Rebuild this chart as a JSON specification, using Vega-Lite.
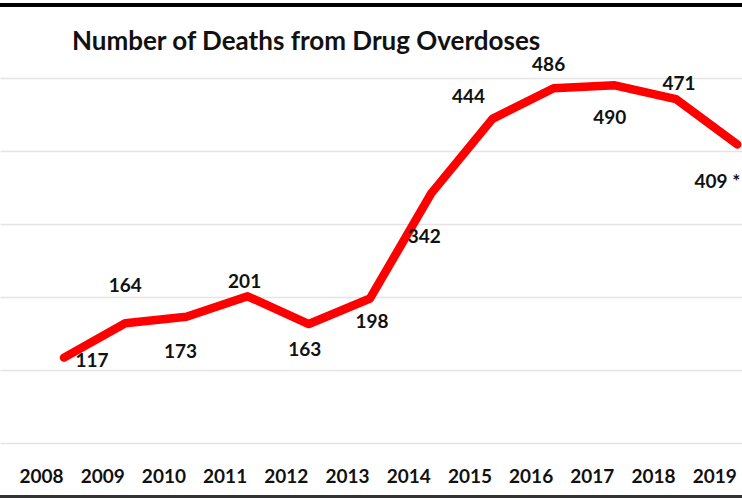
{
  "$schema": "https://vega.github.io/schema/vega-lite/v6.json",
  "width": 742,
  "height": 498,
  "autosize": {"type": "none"},
  "padding": 0,
  "background": "white",
  "config": {"view": {"stroke": null}, "font": "Lato"},
  "title": {
    "text": "Number of Deaths from Drug Overdoses",
    "anchor": "start",
    "frame": "group",
    "dx": 72,
    "offset": -55,
    "font": "Lato",
    "fontSize": 26,
    "fontWeight": "bold",
    "color": "#111111"
  },
  "data": {
    "values": [
      {"year": 2008, "deaths": 117, "label": "117"},
      {"year": 2009, "deaths": 164, "label": "164"},
      {"year": 2010, "deaths": 173, "label": "173"},
      {"year": 2011, "deaths": 201, "label": "201"},
      {"year": 2012, "deaths": 163, "label": "163"},
      {"year": 2013, "deaths": 198, "label": "198"},
      {"year": 2014, "deaths": 342, "label": "342"},
      {"year": 2015, "deaths": 444, "label": "444"},
      {"year": 2016, "deaths": 486, "label": "486"},
      {"year": 2017, "deaths": 490, "label": "490"},
      {"year": 2018, "deaths": 471, "label": "471"},
      {"year": 2019, "deaths": 409, "label": "409 *"}
    ]
  },
  "encoding": {
    "x": {
      "field": "year",
      "type": "quantitative",
      "scale": {"domain": [2006.954, 2019.078], "nice": false, "zero": false},
      "axis": {
        "values": [2008, 2009, 2010, 2011, 2012, 2013, 2014, 2015, 2016, 2017, 2018, 2019],
        "format": "d",
        "title": null,
        "domain": false,
        "ticks": false,
        "tickSize": 0,
        "grid": false,
        "labelPadding": -31,
        "labelOffset": -23,
        "labelFlush": false,
        "labelOverlap": false,
        "labelBound": false,
        "labelFont": "Lato",
        "labelFontSize": 19,
        "labelFontWeight": "bold",
        "labelColor": "#111111"
      }
    },
    "y": {
      "field": "deaths",
      "type": "quantitative",
      "scale": {"domain": [-75.34, 606.85], "nice": false, "zero": false},
      "axis": {
        "values": [0, 100, 200, 300, 400, 500],
        "title": null,
        "domain": false,
        "ticks": false,
        "tickSize": 0,
        "grid": true,
        "gridColor": "#e4e4e4",
        "gridWidth": 1.5,
        "labels": false
      }
    }
  },
  "layer": [
    {
      "mark": {"type": "rule", "color": "#000000", "strokeWidth": 3},
      "encoding": {"x": null, "y": {"datum": 600}}
    },
    {
      "mark": {"type": "rule", "color": "#333333", "strokeWidth": 3},
      "encoding": {"x": null, "y": {"datum": -73.5}}
    },
    {
      "mark": {"type": "line", "color": "#ff0000", "strokeWidth": 8.5, "strokeCap": "round", "strokeJoin": "round"}
    },
    {
      "transform": [{"filter": "datum.year == 2008"}],
      "mark": {"type": "text", "dx": 28, "dy": 3, "font": "Lato", "fontSize": 19, "fontWeight": "bold", "color": "#111111"},
      "encoding": {"text": {"field": "label"}}
    },
    {
      "transform": [{"filter": "datum.year == 2009"}],
      "mark": {"type": "text", "dx": 0, "dy": -37, "font": "Lato", "fontSize": 19, "fontWeight": "bold", "color": "#111111"},
      "encoding": {"text": {"field": "label"}}
    },
    {
      "transform": [{"filter": "datum.year == 2010"}],
      "mark": {"type": "text", "dx": -6, "dy": 35, "font": "Lato", "fontSize": 19, "fontWeight": "bold", "color": "#111111"},
      "encoding": {"text": {"field": "label"}}
    },
    {
      "transform": [{"filter": "datum.year == 2011"}],
      "mark": {"type": "text", "dx": -3, "dy": -14, "font": "Lato", "fontSize": 19, "fontWeight": "bold", "color": "#111111"},
      "encoding": {"text": {"field": "label"}}
    },
    {
      "transform": [{"filter": "datum.year == 2012"}],
      "mark": {"type": "text", "dx": -4, "dy": 26, "font": "Lato", "fontSize": 19, "fontWeight": "bold", "color": "#111111"},
      "encoding": {"text": {"field": "label"}}
    },
    {
      "transform": [{"filter": "datum.year == 2013"}],
      "mark": {"type": "text", "dx": 2, "dy": 24, "font": "Lato", "fontSize": 19, "fontWeight": "bold", "color": "#111111"},
      "encoding": {"text": {"field": "label"}}
    },
    {
      "transform": [{"filter": "datum.year == 2014"}],
      "mark": {"type": "text", "dx": -7, "dy": 44, "font": "Lato", "fontSize": 19, "fontWeight": "bold", "color": "#111111"},
      "encoding": {"text": {"field": "label"}}
    },
    {
      "transform": [{"filter": "datum.year == 2015"}],
      "mark": {"type": "text", "dx": -24, "dy": -22, "font": "Lato", "fontSize": 19, "fontWeight": "bold", "color": "#111111"},
      "encoding": {"text": {"field": "label"}}
    },
    {
      "transform": [{"filter": "datum.year == 2016"}],
      "mark": {"type": "text", "dx": -5, "dy": -23, "font": "Lato", "fontSize": 19, "fontWeight": "bold", "color": "#111111"},
      "encoding": {"text": {"field": "label"}}
    },
    {
      "transform": [{"filter": "datum.year == 2017"}],
      "mark": {"type": "text", "dx": -5, "dy": 33, "font": "Lato", "fontSize": 19, "fontWeight": "bold", "color": "#111111"},
      "encoding": {"text": {"field": "label"}}
    },
    {
      "transform": [{"filter": "datum.year == 2018"}],
      "mark": {"type": "text", "dx": 3, "dy": -15, "font": "Lato", "fontSize": 19, "fontWeight": "bold", "color": "#111111"},
      "encoding": {"text": {"field": "label"}}
    },
    {
      "transform": [{"filter": "datum.year == 2019"}],
      "mark": {"type": "text", "align": "right", "dx": 3, "dy": 38, "font": "Lato", "fontSize": 19, "fontWeight": "bold", "color": "#111111"},
      "encoding": {"text": {"field": "label"}}
    }
  ]
}
